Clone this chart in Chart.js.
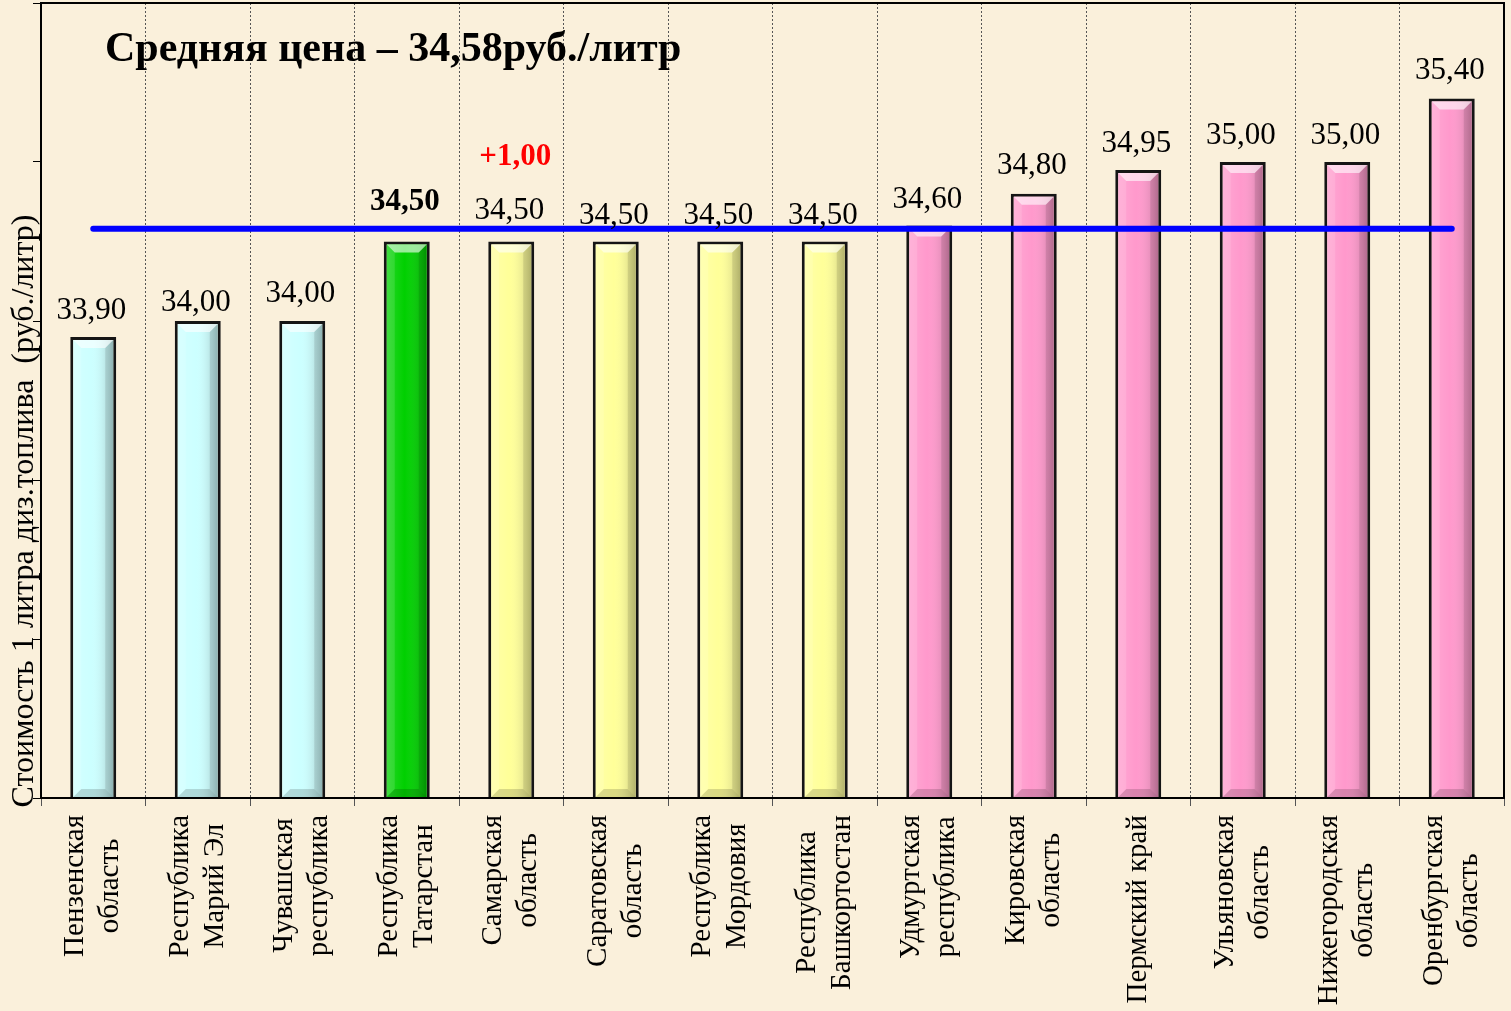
<!DOCTYPE html>
<html><head><meta charset="utf-8">
<script src="https://cdn.jsdelivr.net/npm/chart.js@4/dist/chart.umd.min.js"></script>
<style>html,body{margin:0;padding:0;background:#FAF0DB;overflow:hidden}canvas{display:block}</style>
</head><body>
<canvas id="c" width="1511" height="1011"></canvas>
<script>
// ---- data ----
const categories = [
  ["Пензенская","область"],["Республика","Марий Эл"],["Чувашская","республика"],
  ["Республика","Татарстан"],["Самарская","область"],["Саратовская","область"],
  ["Республика","Мордовия"],["Республика","Башкортостан"],["Удмуртская","республика"],
  ["Кировская","область"],["Пермский край"],["Ульяновская","область"],
  ["Нижегородская","область"],["Оренбургская","область"]
];
const prices = [33.90,34.00,34.00,34.50,34.50,34.50,34.50,34.50,34.60,34.80,34.95,35.00,35.00,35.40];
const averagePrice = [34.58,34.58,34.58,34.58,34.58,34.58,34.58,34.58,34.58,34.58,34.58,34.58,34.58,34.58];
const changeLabels = ["","","","","+1,00","","","","","","","","",""];
const groupIndex = [0,0,0,1,2,2,2,2,3,3,3,3,3,3];
const groupColors = ["#CCFFFF","#00D000","#FFFF99","#FF99CC"];
const titleText = "Средняя цена – 34,58руб./литр";
const yAxisTitle = "Стоимость 1 литра диз.топлива  (руб./литр)";
const yMin = 31, yMax = 36, yStep = 1;

const SERIF = '"Liberation Serif","Times New Roman",serif';
const fmt = v => v.toFixed(2).replace('.', ',');

const bgPlugin = {
  id: 'bg',
  beforeDraw(chart) {
    const ctx = chart.ctx;
    ctx.save();
    ctx.fillStyle = '#FAF0DB';
    ctx.fillRect(0, 0, chart.width, chart.height);
    ctx.restore();
  }
};

const bevelPlugin = {
  id: 'bevel',
  afterDatasetDraw(chart, args) {
    if (args.index !== 0) return;
    const ctx = chart.ctx;
    const a = chart.chartArea;
    const meta = chart.getDatasetMeta(0);
    meta.data.forEach(el => {
      const p = el.getProps(['x','y','base','width'], true);
      const bw = 3, b = 8;
      const L = p.x - p.width/2 + bw, R = p.x + p.width/2 - bw;
      const T = p.y + bw, B = Math.min(p.base, a.bottom) - 1;
      ctx.save();
      const g = ctx.createLinearGradient(L, 0, R, 0);
      g.addColorStop(0, 'rgba(255,255,255,0.15)');
      g.addColorStop(0.45, 'rgba(255,255,255,0)');
      g.addColorStop(1, 'rgba(0,0,0,0.22)');
      ctx.fillStyle = g;
      ctx.fillRect(L, T, R-L, B-T);
      // top bevel
      ctx.fillStyle = 'rgba(255,255,255,0.6)';
      ctx.beginPath(); ctx.moveTo(L,T); ctx.lineTo(R,T); ctx.lineTo(R-b,T+b); ctx.lineTo(L+b,T+b); ctx.closePath(); ctx.fill();
      // bottom bevel
      ctx.fillStyle = 'rgba(0,0,0,0.15)';
      ctx.beginPath(); ctx.moveTo(L,B); ctx.lineTo(R,B); ctx.lineTo(R-b,B-b); ctx.lineTo(L+b,B-b); ctx.closePath(); ctx.fill();
      // right bevel
      ctx.fillStyle = 'rgba(0,0,0,0.10)';
      ctx.beginPath(); ctx.moveTo(R,T); ctx.lineTo(R,B); ctx.lineTo(R-b,B-b); ctx.lineTo(R-b,T+b); ctx.closePath(); ctx.fill();
      // left bevel
      ctx.fillStyle = 'rgba(255,255,255,0.12)';
      ctx.beginPath(); ctx.moveTo(L,T); ctx.lineTo(L,B); ctx.lineTo(L+b,B-b); ctx.lineTo(L+b,T+b); ctx.closePath(); ctx.fill();
      ctx.restore();
    });
  }
};

const decorPlugin = {
  id: 'decor',
  afterDraw(chart) {
    const ctx = chart.ctx;
    const a = chart.chartArea;
    const xs = chart.scales.x;
    ctx.save();
    // frame
    ctx.strokeStyle = '#000';
    ctx.lineWidth = 2;
    ctx.strokeRect(a.left, a.top, a.right - a.left, a.bottom - a.top);

    // value labels
    const lift = [18,10,19,32,23,18,18,18,18,20,18,18,18,19];
    const meta = chart.getDatasetMeta(0);
    ctx.textAlign = 'center';
    ctx.textBaseline = 'alphabetic';
    meta.data.forEach((el, i) => {
      const bold = (i === 3);
      ctx.font = (bold ? 'bold ' : '') + '31px ' + SERIF;
      ctx.fillStyle = '#000';
      ctx.fillText(fmt(prices[i]), el.x - 2, el.y - lift[i]);
      if (changeLabels[i]) {
        ctx.font = 'bold 31px ' + SERIF;
        ctx.fillStyle = '#FF0000';
        ctx.fillText(changeLabels[i], el.x + 4, el.y - 77);
      }
    });

    // category labels
    ctx.fillStyle = '#000';
    ctx.font = '29px ' + SERIF;
    ctx.textAlign = 'center';
    ctx.textBaseline = 'middle';
    categories.forEach((lines, i) => {
      const x = xs.getPixelForValue(i);
      const W = Math.max(...lines.map(l => ctx.measureText(l).width));
      ctx.save();
      ctx.translate(x, a.bottom + 17 + W/2);
      ctx.rotate(-Math.PI/2);
      const n = lines.length;
      lines.forEach((l, k) => ctx.fillText(l, 0, (k - (n-1)/2) * 35));
      ctx.restore();
    });

    // y axis title
    ctx.save();
    ctx.translate(25, 511);
    ctx.rotate(-Math.PI/2);
    ctx.font = '32px ' + SERIF;
    ctx.fillText(yAxisTitle, 0, 0);
    ctx.restore();

    // title
    ctx.font = 'bold 42px ' + SERIF;
    ctx.textAlign = 'left';
    ctx.textBaseline = 'alphabetic';
    ctx.fillText(titleText, 105, 61);
    ctx.restore();
  }
};

new Chart(document.getElementById('c'), {
  data: {
    labels: categories,
    datasets: [
      {
        type: 'bar',
        data: prices,
        order: 1,
        backgroundColor: groupIndex.map(g => groupColors[g]),
        borderColor: '#151515',
        borderWidth: 3,
        borderSkipped: false,
        barPercentage: 0.44,
        categoryPercentage: 1.0
      },
      {
        type: 'line',
        data: averagePrice,
        order: 0,
        borderColor: '#0000FF',
        borderWidth: 6,
        borderCapStyle: 'round',
        pointRadius: 0,
        fill: false
      }
    ]
  },
  options: {
    responsive: false,
    animation: false,
    devicePixelRatio: 1,
    layout: { padding: { left: 33, right: 7, top: 3, bottom: 205 } },
    plugins: { legend: { display: false }, tooltip: { enabled: false }, title: { display: false } },
    scales: {
      x: {
        type: 'category',
        offset: true,
        ticks: { display: false },
        grid: { display: true, offset: true, color: '#555', lineWidth: 1, tickLength: 8, tickColor: '#555', drawOnChartArea: true },
        border: { display: false, dash: [2, 2] }
      },
      y: {
        min: yMin, max: yMax,
        ticks: { display: false, stepSize: yStep },
        grid: { drawOnChartArea: false, drawTicks: true, tickLength: 8, tickColor: '#000', lineWidth: 1 },
        border: { display: false }
      }
    }
  },
  plugins: [bgPlugin, bevelPlugin, decorPlugin]
});
</script>
</body></html>
